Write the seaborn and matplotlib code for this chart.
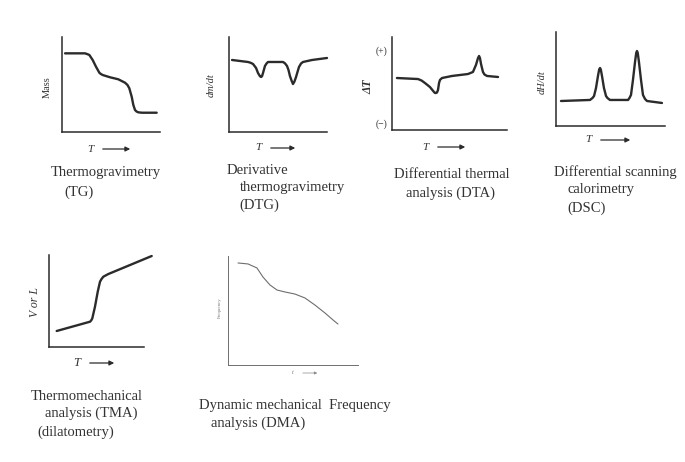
import matplotlib
matplotlib.use("Agg")
import matplotlib.pyplot as plt
from matplotlib.patches import FancyArrowPatch
import seaborn as sns

# curves, both axes in arbitrary units 0-100
tg_T = [3.1, 23.5, 25.5, 27.9, 31.3, 34.7, 38.1, 39.6, 41.5, 49.0, 57.4, 64.3, 66.8, 68.7, 71.1,
        72.8, 74.5, 76.0, 77.9, 81.6, 96.6]
tg_mass = [82.8, 82.8, 82.1, 81.1, 75.8, 68.7, 62.4, 61.1, 60.0, 57.6, 55.5, 51.9, 49.5, 46.0, 37.2,
           28.4, 23.2, 21.6, 20.7, 20.3, 20.3]

dtg_T = [3.1, 19.4, 22.0, 24.5, 27.6, 29.6, 31.6, 32.7, 33.7, 34.7, 36.7, 38.3, 39.8, 48.0, 55.1,
         57.1, 59.2, 60.7, 62.2, 63.8, 65.3, 66.8, 68.4, 69.9, 71.4, 73.5, 75.5, 84.7, 100]
dtg_dmdt = [75.8, 73.7, 72.9, 71.6, 67.4, 62.1, 58.7, 57.9, 58.7, 62.1, 69.5, 72.1, 73.7, 73.7, 73.7,
            72.3, 69.5, 65.3, 58.9, 54.2, 50.5, 53.2, 57.9, 63.2, 68.4, 72.1, 73.7, 75.8, 77.9]

dta_T = [4.3, 22.6, 25.7, 28.7, 33.0, 36.5, 37.4, 38.3, 39.1, 40.0, 40.9, 41.7, 43.5, 52.2, 66.1,
         70.4, 73.0, 74.8, 75.7, 76.5, 77.4, 79.1, 80.4, 82.6, 92.2]
dta_dT = [55.9, 54.8, 53.2, 50.5, 46.2, 40.9, 39.8, 39.8, 40.3, 43.0, 50.5, 53.8, 55.9, 58.1, 60.2,
          62.4, 69.9, 77.4, 79.6, 77.4, 71.0, 62.4, 59.7, 58.1, 57.0]
dta_ticks = [86, 7.5]
dta_ticklabels = ["(+)", "(\u2212)"]

dsc_T = [4.6, 31.2, 33.5, 34.9, 36.7, 38.5, 39.6, 40.4, 41.1, 42.2, 44.0, 45.9, 47.2, 49.5, 66.1,
         67.4, 68.8, 70.6, 72.5, 73.6, 74.3, 75.0, 76.1, 78.0, 79.8, 81.7, 83.5, 97.2]
dsc_dHdt = [26.6, 27.7, 29.8, 31.9, 40.4, 53.2, 60.1, 61.7, 60.1, 53.2, 40.4, 31.9, 29.8, 27.7, 27.7,
            29.8, 33.0, 48.9, 68.1, 77.7, 79.8, 77.7, 68.1, 48.9, 33.0, 28.7, 26.6, 24.5]

tma_T = [8.1, 43.2, 44.5, 45.6, 48.4, 51.3, 53.7, 55.3, 57.2, 62.4, 108.1]
tma_VL = [17.4, 27.5, 29.0, 31.2, 43.8, 60.1, 71.0, 73.9, 76.4, 79.3, 98.9]

dma_t = [7.7, 15.4, 22.3, 26.9, 32.3, 37.7, 43.8, 51.5, 59.2, 66.9, 74.6, 80.8, 84.6]
dma_freq = [93.6, 92.7, 89.0, 80.7, 73.4, 68.8, 67.0, 65.1, 61.5, 55.0, 47.7, 41.3, 37.6]

W, H = 685, 462
INK = "#2b2b2b"
TXT = "#333333"

sns.set_style("white")
plt.rcParams["font.family"] = ["Liberation Serif", "DejaVu Serif"]

fig = plt.figure(figsize=(W / 100, H / 100), dpi=100)


def box(l, t, r, b):
    return [l / W, 1 - b / H, (r - l) / W, (b - t) / H]


def panel(rect, x, y, lw=1.7, color=INK, spine_lw=1.1):
    ax = fig.add_axes(rect)
    sns.lineplot(x=x, y=y, ax=ax, color=color, lw=lw, sort=False)
    for line in ax.lines:
        line.set_clip_on(False)
        line.set_solid_joinstyle("round")
        line.set_solid_capstyle("round")
    ax.set_xlim(0, 100)
    ax.set_ylim(0, 100)
    ax.set_xticks([])
    ax.set_yticks([])
    ax.set_xlabel("")
    ax.set_ylabel("")
    sns.despine(ax=ax)
    for s in ("left", "bottom"):
        ax.spines[s].set_linewidth(spine_lw)
        ax.spines[s].set_color(color)
    ax.patch.set_alpha(0)
    return ax


def txt(x, y, s, **kw):
    kw.setdefault("color", TXT)
    kw.setdefault("va", "center")
    fig.text(x / W, 1 - y / H, s, **kw)


def arrow(x0, x1, y, lw=0.9, color=INK, ms=7):
    fig.add_artist(FancyArrowPatch((x0 / W, 1 - y / H), (x1 / W, 1 - y / H),
                                   transform=fig.transFigure, arrowstyle="-|>",
                                   mutation_scale=ms, lw=lw, color=color))


# TG
panel(box(62, 37, 160, 132), tg_T, tg_mass)
txt(47, 87, "Mass", rotation=90, ha="center", fontsize=7.5)
txt(90, 149, "T", style="italic", ha="center", fontsize=8)
arrow(100, 133, 149)
txt(51, 173, "Thermogravimetry", fontsize=10.5)
txt(64, 192, "(TG)", fontsize=10.5)

# DTG
panel(box(229, 37, 327, 132), dtg_T, dtg_dmdt)
txt(211, 85, "dm/dt", rotation=90, ha="center", style="italic", fontsize=7.5)
txt(258, 148, "T", style="italic", ha="center", fontsize=8)
arrow(268, 298, 148)
txt(227, 171, "Derivative", fontsize=10.5)
txt(240, 188, "thermogravimetry", fontsize=10.5)
txt(239, 205, "(DTG)", fontsize=10.5)

# DTA
ax = panel(box(392, 37, 507, 130), dta_T, dta_dT)
ax.set_yticks(dta_ticks, dta_ticklabels)
ax.tick_params(axis="y", length=0, labelsize=7, pad=3, labelcolor=TXT)
txt(368, 87, "\u0394T", rotation=90, ha="center", style="italic", weight="bold", fontsize=8.5)
txt(425, 147, "T", style="italic", ha="center", fontsize=8)
arrow(435, 468, 147)
txt(452, 175, "Differential thermal", ha="center", fontsize=10.5)
txt(451, 193, "analysis (DTA)", ha="center", fontsize=10.5)

# DSC
panel(box(556, 32, 665, 126), dsc_T, dsc_dHdt)
txt(542, 82, "dH/dt", rotation=90, ha="center", style="italic", fontsize=7.5)
txt(588, 140, "T", style="italic", ha="center", fontsize=8)
arrow(598, 633, 140)
txt(554, 172, "Differential scanning", fontsize=10.5)
txt(567, 190, "calorimetry", fontsize=10.5)
txt(567, 208, "(DSC)", fontsize=10.5)

# TMA
panel(box(49, 255, 144, 347), tma_T, tma_VL)
txt(35, 302, "V or L", rotation=90, ha="center", style="italic", fontsize=8.5)
txt(77, 363, "T", style="italic", ha="center", fontsize=9)
arrow(87, 117, 363)
txt(31, 396, "Thermomechanical", fontsize=10.5)
txt(45, 413, "analysis (TMA)", fontsize=10.5)
txt(37, 432, "(dilatometry)", fontsize=10.5)

# DMA
panel(box(228, 256, 358, 365), dma_t, dma_freq, lw=0.8, color="#6e6e6e", spine_lw=0.7)
txt(220, 308, "Frequency", rotation=90, ha="center", fontsize=3.5, color="#777777")
txt(293, 373, "t", style="italic", ha="center", fontsize=4.5, color="#777777")
arrow(300, 320, 373, lw=0.5, color="#888888", ms=4)
txt(199, 406, "Dynamic mechanical  Frequency", fontsize=10.5)
txt(211, 423, "analysis (DMA)", fontsize=10.5)

fig.savefig("out.png", dpi=100, facecolor="white")
